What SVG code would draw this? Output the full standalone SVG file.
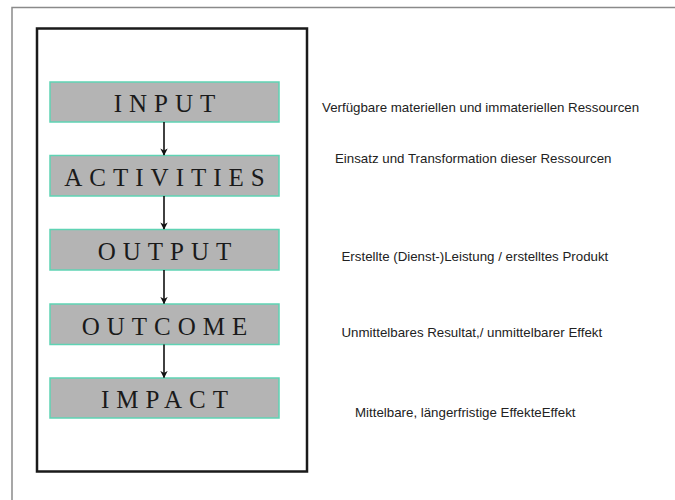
<svg xmlns="http://www.w3.org/2000/svg" width="675" height="500" viewBox="0 0 675 500">
  <style>
    .frame { fill: none; stroke: #8a8a8a; stroke-width: 1.5; }
    .panel { fill: none; stroke: #1a1a1a; stroke-width: 2.5; }
    .step rect { fill: #b4b4b4; stroke: #5fd3b4; stroke-width: 1.5; }
    .step text { font-family: "Liberation Serif", "Times New Roman", serif; font-size: 25px; letter-spacing: 7px; fill: #1a1a1a; text-anchor: middle; }
    .note { font-family: "Liberation Sans", Arial, sans-serif; font-size: 13.3px; fill: #222; }
    .link { stroke: #111; stroke-width: 1.6; fill: none; marker-end: url(#head); }
  </style>
  <defs>
    <marker id="head" viewBox="0 0 10 10" refX="9" refY="5" markerWidth="4.6" markerHeight="4.6" orient="auto" markerUnits="strokeWidth">
      <path d="M0,0 L10,5 L0,10 L3,5 Z" fill="#111"/>
    </marker>
  </defs>

  <rect width="675" height="500" fill="#ffffff"/>
  <!-- page frame (open to the right and bottom) -->
  <path class="frame" d="M12,500 V7.5 H675"/>
  <!-- panel around the chain -->
  <rect class="panel" x="37" y="28.5" width="270" height="443"/>

  <g id="input" class="step">
    <rect x="50" y="82" width="229" height="40"/>
    <text x="168" y="112">INPUT</text>
  </g>
  <g id="activities" class="step">
    <rect x="50" y="155.5" width="229" height="40.5"/>
    <text x="168" y="186">ACTIVITIES</text>
  </g>
  <g id="output" class="step">
    <rect x="50" y="229.5" width="229" height="40.5"/>
    <text x="168" y="260">OUTPUT</text>
  </g>
  <g id="outcome" class="step">
    <rect x="50" y="304" width="229" height="40.5"/>
    <text x="168" y="334.5">OUTCOME</text>
  </g>
  <g id="impact" class="step">
    <rect x="50" y="378" width="229" height="40"/>
    <text x="168" y="408">IMPACT</text>
  </g>

  <g id="connectors">
    <line class="link" x1="164" y1="122" x2="164" y2="155"/>
    <line class="link" x1="164" y1="196" x2="164" y2="229"/>
    <line class="link" x1="164" y1="270" x2="164" y2="303.5"/>
    <line class="link" x1="164" y1="344.5" x2="164" y2="377.5"/>
  </g>

  <g id="notes">
    <text class="note" x="322" y="111.5">Verfügbare materiellen und immateriellen Ressourcen</text>
    <text class="note" x="335" y="163">Einsatz und Transformation dieser Ressourcen</text>
    <text class="note" x="341.5" y="260.5">Erstellte (Dienst-)Leistung / erstelltes Produkt</text>
    <text class="note" x="341.5" y="337">Unmittelbares Resultat,/ unmittelbarer Effekt</text>
    <text class="note" x="355" y="417">Mittelbare, längerfristige EffekteEffekt</text>
  </g>
</svg>
